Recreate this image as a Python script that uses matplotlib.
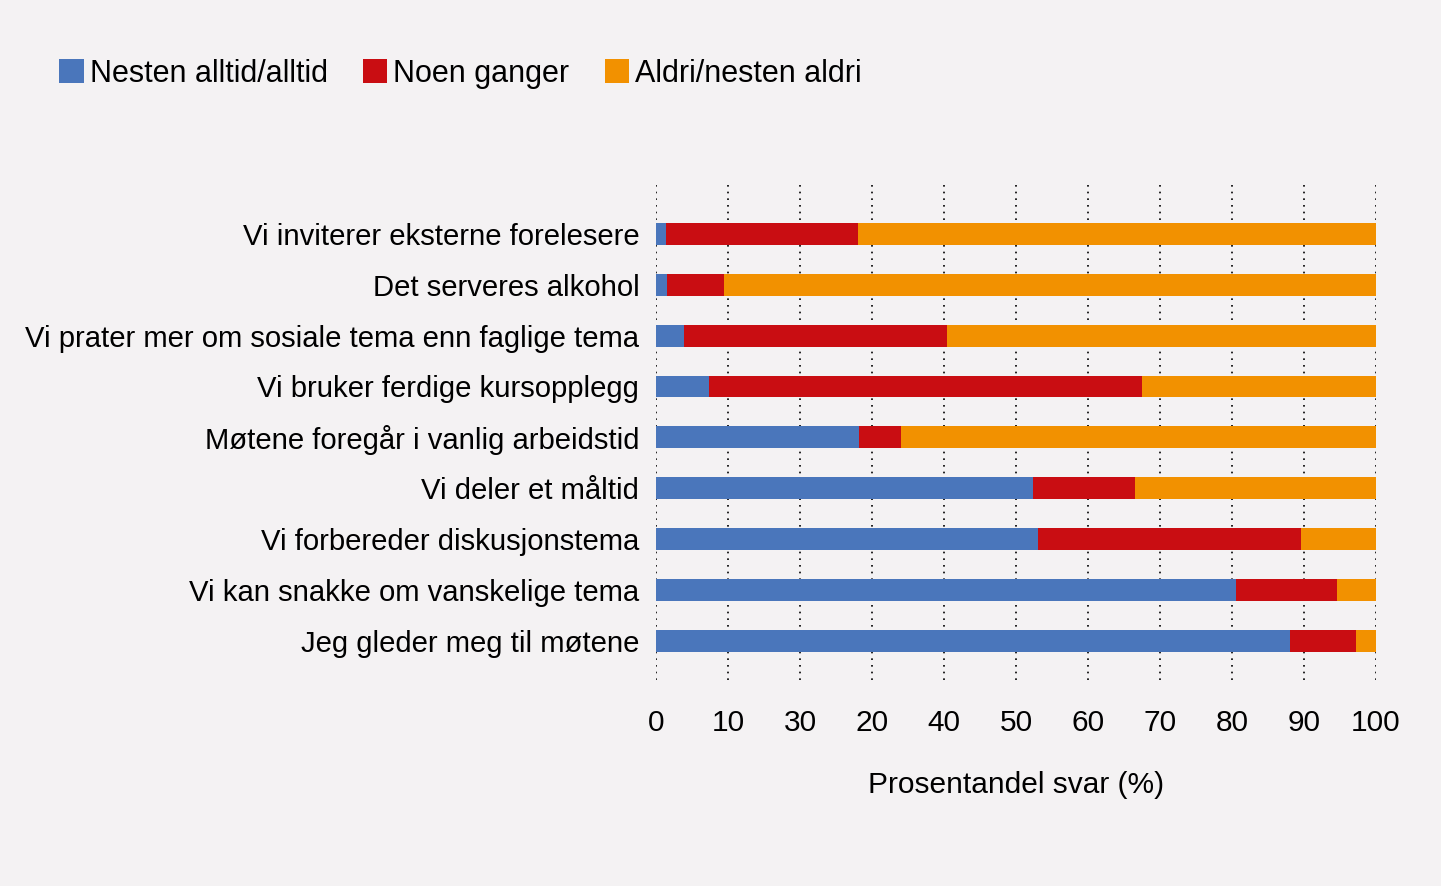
import matplotlib.pyplot as plt
import numpy as np

categories = ["Vi inviterer eksterne forelesere",
              "Det serveres alkohol",
              "Vi prater mer om sosiale tema enn faglige tema",
              "Vi bruker ferdige kursopplegg",
              "Møtene foregår i vanlig arbeidstid",
              "Vi deler et måltid",
              "Vi forbereder diskusjonstema",
              "Vi kan snakke om vanskelige tema",
              "Jeg gleder meg til møtene"]
alltid = [1.4, 1.5, 3.9, 7.4, 28.2, 52.4, 53.1, 80.6, 88.1]
noen = [26.7, 7.9, 36.5, 60.1, 5.8, 14.1, 36.5, 14.0, 9.1]
aldri = [71.9, 90.6, 59.6, 32.5, 66.0, 33.5, 10.4, 5.4, 2.8]
series_names = ["Nesten alltid/alltid", "Noen ganger", "Aldri/nesten aldri"]
tick_vals = [0, 10, 20, 30, 40, 50, 60, 70, 80, 90, 100]
tick_labels = ["0", "10", "30", "20", "40", "50", "60", "70", "80", "90", "100"]

colors = ["#4a76bb", "#c90d12", "#f29100"]
bg = "#f4f2f3"

plt.rcParams['font.family'] = ['Liberation Sans', 'DejaVu Sans']

fig = plt.figure(figsize=(14.41, 8.86), dpi=100, facecolor=bg)
ax = fig.add_axes([0.4552, 0.2325, 0.4997, 0.5587], facecolor=bg)

y = np.arange(len(categories))
left = np.zeros(len(categories))
bars = []
for vals, c, name in zip([alltid, noen, aldri], colors, series_names):
    b = ax.barh(y, vals, left=left, height=0.43, color=c, label=name, zorder=2)
    bars.append(b)
    left = left + np.array(vals)

ax.set_xlim(0, 100)
ax.set_ylim(8.77, -0.96)
ax.set_yticks(y)
ax.set_yticklabels(categories, fontsize=21.1)
ax.set_xticks(tick_vals)
ax.set_xticklabels(tick_labels, fontsize=21.5)
ax.tick_params(axis='both', length=0)
ax.tick_params(axis='x', pad=21)
ax.tick_params(axis='y', pad=12)
ax.xaxis.grid(True, linestyle=(0, (1, 3)), color='black', linewidth=1.2, zorder=1)
ax.set_axisbelow(True)
for s in ax.spines.values():
    s.set_visible(False)
ax.set_xlabel("Prosentandel svar (%)", fontsize=21.5, labelpad=24)

fig.legend(handles=bars, labels=series_names, loc='upper left',
           bbox_to_anchor=(0.022, 0.965), ncol=3, frameon=False, fontsize=22,
           handlelength=0.8, handleheight=0.8, handletextpad=0.2,
           columnspacing=1.15)

fig.savefig("out.png", dpi=100, facecolor=bg)
